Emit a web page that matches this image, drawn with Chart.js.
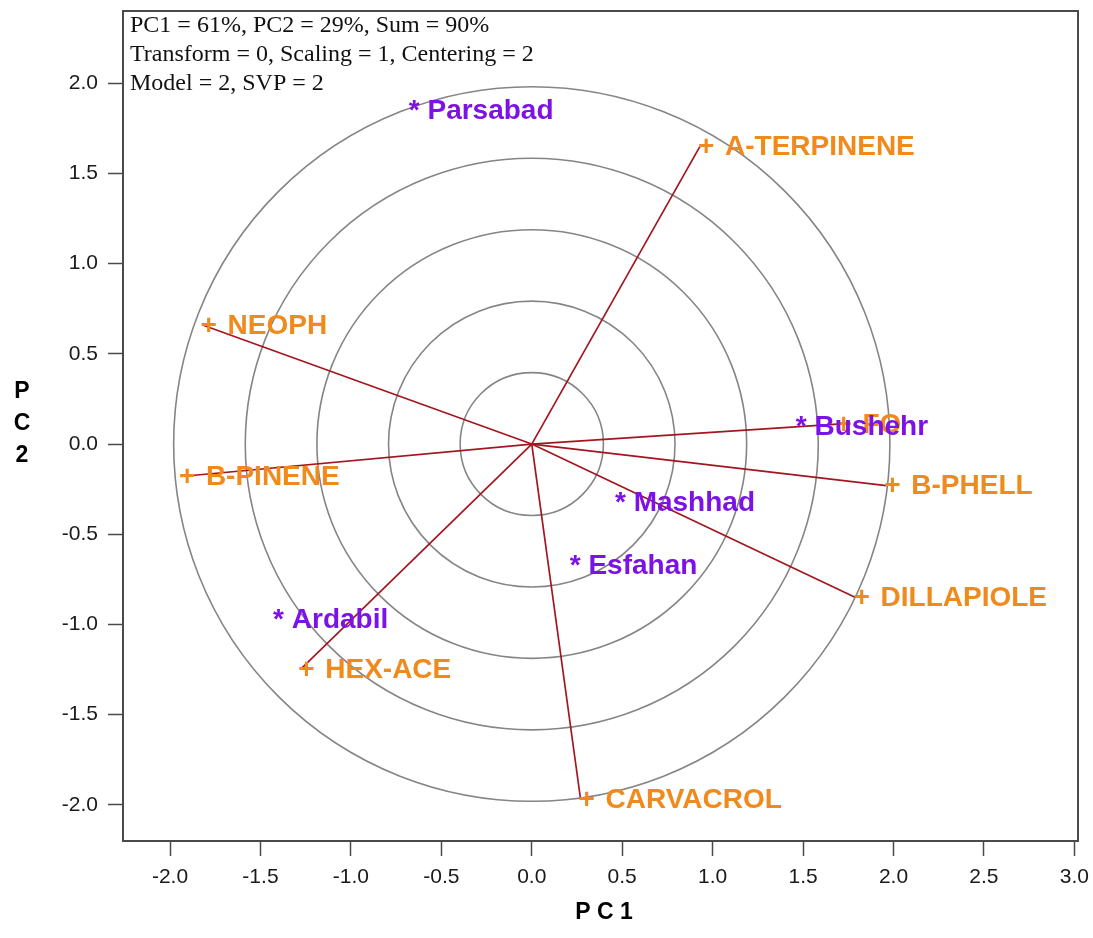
<!DOCTYPE html>
<html>
<head>
<meta charset="utf-8">
<script src="https://cdn.jsdelivr.net/npm/chart.js@4"></script>
<style>
  html, body { margin: 0; padding: 0; background: #ffffff; }
  #wrap { width: 1093px; height: 938px; position: relative; }
</style>
</head>
<body>
<div id="wrap"><canvas id="biplot" width="1093" height="938"></canvas></div>
<script>
// Variable (trait) vectors: PC1 / PC2 loadings
const varNames = ['A-TERPINENE', 'NEOPH', 'B-PINENE', 'FO', 'B-PHELL', 'DILLAPIOLE', 'HEX-ACE', 'CARVACROL'];
const varPC1   = [0.93, -1.82, -1.94, 1.69, 1.96, 1.79, -1.28, 0.27];
const varPC2   = [1.65, 0.66, -0.18, 0.11, -0.23, -0.85, -1.25, -1.97];

// Genotype (location) scores
const genoNames = ['Parsabad', 'Bushehr', 'Mashhad', 'Esfahan', 'Ardabil'];
const genoPC1   = [-0.68, 1.46, 0.46, 0.21, -1.43];
const genoPC2   = [1.85, 0.10, -0.32, -0.67, -0.97];

// Concentric reference circles around the origin
const ringRadii = [0.396, 0.792, 1.188, 1.584, 1.98];

// Axis tick values
const xTicks = [-2.0, -1.5, -1.0, -0.5, 0.0, 0.5, 1.0, 1.5, 2.0, 2.5, 3.0];
const yTicks = [-2.0, -1.5, -1.0, -0.5, 0.0, 0.5, 1.0, 1.5, 2.0];

// Model summary lines
const infoLines = [
  'PC1 = 61%, PC2 = 29%, Sum = 90%',
  'Transform = 0, Scaling = 1, Centering = 2',
  'Model = 2, SVP = 2'
];

const VECTOR_COLOR = '#a3161f';
const VAR_COLOR = '#f08a1c';
const GENO_COLOR = '#7d12e6';
const FRAME_COLOR = '#4a4a4a';
const LABEL_FONT = 'bold 28px "Liberation Sans", Arial, sans-serif';

const datasets = [];
varNames.forEach((name, i) => {
  datasets.push({
    label: name,
    kind: 'variable',
    data: [{ x: 0, y: 0 }, { x: varPC1[i], y: varPC2[i] }],
    showLine: true,
    borderColor: VECTOR_COLOR,
    borderWidth: 1.7,
    pointRadius: 0,
    pointHoverRadius: 0
  });
});
datasets.push({
  label: 'Genotypes',
  kind: 'genotype',
  data: genoPC1.map((x, i) => ({ x: x, y: genoPC2[i] })),
  showLine: false,
  pointRadius: 0,
  pointHoverRadius: 0
});

const tickSetter = values => scale => {
  scale.ticks = values.map(v => ({ value: v }));
};

const biplotDecor = {
  id: 'biplotDecor',
  beforeDatasetsDraw(chart) {
    const { ctx, chartArea, scales } = chart;
    const xs = scales.x, ys = scales.y;
    const cx = xs.getPixelForValue(0), cy = ys.getPixelForValue(0);
    ctx.save();
    ctx.beginPath();
    ctx.rect(chartArea.left, chartArea.top, chartArea.right - chartArea.left, chartArea.bottom - chartArea.top);
    ctx.clip();
    ctx.strokeStyle = '#858585';
    ctx.lineWidth = 1.6;
    ringRadii.forEach(r => {
      const rx = Math.abs(xs.getPixelForValue(r) - cx);
      const ry = Math.abs(ys.getPixelForValue(r) - cy);
      ctx.beginPath();
      ctx.ellipse(cx, cy, rx, ry, 0, 0, Math.PI * 2);
      ctx.stroke();
    });
    ctx.restore();
  },
  afterDatasetsDraw(chart) {
    const { ctx, chartArea } = chart;
    ctx.save();
    ctx.font = LABEL_FONT;
    ctx.textAlign = 'left';
    ctx.textBaseline = 'middle';
    // trait labels at vector tips: "+" marker, then the name
    chart.data.datasets.forEach((ds, di) => {
      if (ds.kind !== 'variable') return;
      const tip = chart.getDatasetMeta(di).data[1];
      ctx.fillStyle = VAR_COLOR;
      ctx.fillText('+', tip.x - 2, tip.y + 1);
      ctx.fillText(ds.label, tip.x + 25, tip.y + 1);
    });
    // genotype labels
    chart.data.datasets.forEach((ds, di) => {
      if (ds.kind !== 'genotype') return;
      chart.getDatasetMeta(di).data.forEach((pt, i) => {
        ctx.fillStyle = GENO_COLOR;
        ctx.fillText('* ' + genoNames[i], pt.x, pt.y + 1);
      });
    });
    // frame
    ctx.strokeStyle = FRAME_COLOR;
    ctx.lineWidth = 2;
    ctx.strokeRect(chartArea.left, chartArea.top, chartArea.right - chartArea.left, chartArea.bottom - chartArea.top);
    // summary text
    ctx.fillStyle = '#111111';
    ctx.font = '24px "Liberation Serif", "Times New Roman", serif';
    ctx.textBaseline = 'middle';
    infoLines.forEach((line, i) => {
      ctx.fillText(line, chartArea.left + 7, chartArea.top + 15 + i * 29);
    });
    // axis titles
    ctx.fillStyle = '#000000';
    ctx.font = 'bold 23px "Liberation Sans", Arial, sans-serif';
    ctx.textAlign = 'center';
    ctx.fillText('P C 1', 604, 913);
    ['P', 'C', '2'].forEach((ch, i) => {
      ctx.fillText(ch, 22, 392 + i * 32);
    });
    ctx.restore();
  }
};

new Chart(document.getElementById('biplot'), {
  type: 'scatter',
  data: { datasets },
  options: {
    responsive: false,
    animation: false,
    events: [],
    layout: { padding: { left: 0, top: 11, right: 15, bottom: 0 } },
    plugins: { legend: { display: false }, tooltip: { enabled: false } },
    scales: {
      x: {
        type: 'linear',
        min: -2.26,
        max: 3.02,
        afterBuildTicks: tickSetter(xTicks),
        afterFit: s => { s.height = 97; s.paddingLeft = 0; s.paddingRight = 0; },
        grid: { drawOnChartArea: false, drawTicks: true, tickLength: 15, tickWidth: 1.5, tickColor: FRAME_COLOR },
        border: { display: true, color: FRAME_COLOR, width: 2 },
        ticks: {
          autoSkip: false, maxRotation: 0, padding: 9,
          color: '#1a1a1a',
          font: { family: '"Liberation Sans", Arial, sans-serif', size: 21 },
          callback: v => Number(v).toFixed(1)
        }
      },
      y: {
        type: 'linear',
        min: -2.2,
        max: 2.4,
        afterBuildTicks: tickSetter(yTicks),
        afterFit: s => { s.width = 123; s.paddingTop = 0; s.paddingBottom = 0; },
        grid: { drawOnChartArea: false, drawTicks: true, tickLength: 15, tickWidth: 1.5, tickColor: FRAME_COLOR },
        border: { display: true, color: FRAME_COLOR, width: 2 },
        ticks: {
          autoSkip: false, padding: 10,
          color: '#1a1a1a',
          font: { family: '"Liberation Sans", Arial, sans-serif', size: 21 },
          callback: v => Number(v).toFixed(1)
        }
      }
    }
  },
  plugins: [biplotDecor]
});
</script>
</body>
</html>
